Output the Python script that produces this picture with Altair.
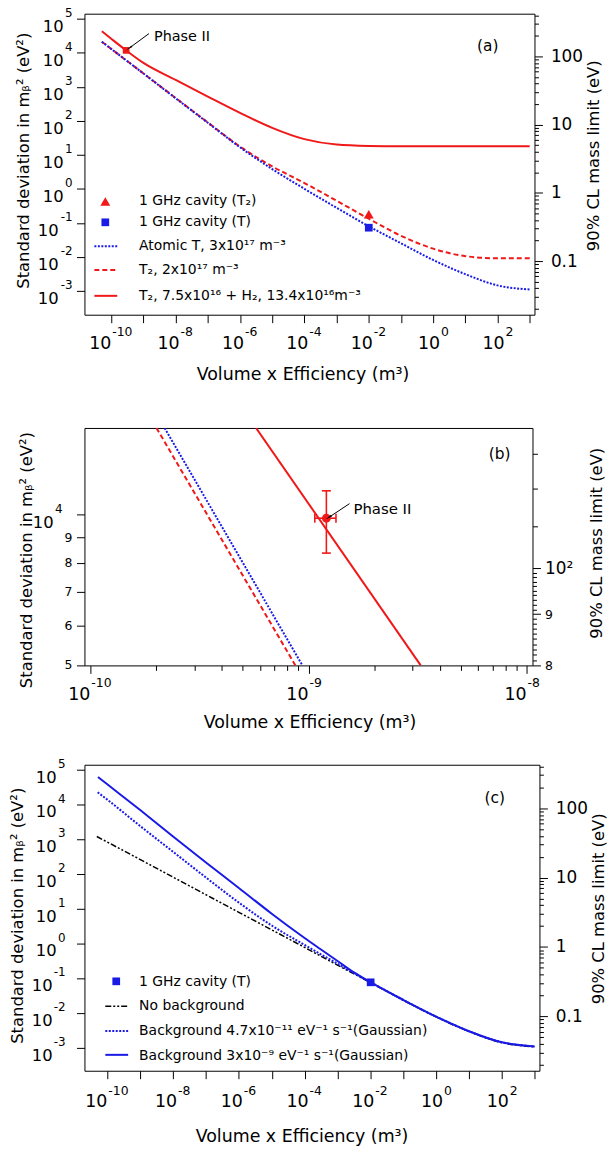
import altair as alt
import pandas as pd

FONT = "DejaVu Sans"
RED = "#f01818"
BLUE = "#1a1ae6"
BLACK = "#000000"

# ------------------------------------------------------------------ data
# Panel (a)
a_x = [5.1e-11, 1e-10, 1e-9, 1e-8, 1e-7, 1e-6, 1e-5, 1e-4, 1e-3, 1e-2, 1e-1, 1.0, 10.0, 100.0, 1000.0]
a_atomic_T = [2.1e4, 1.29e4, 2450, 457, 87, 16.6, 3.8, 1.0, 0.275, 0.0794, 0.0251, 0.0081, 0.0031, 0.00145, 0.0011]
a_T2 = [2.1e4, 1.29e4, 2450, 468, 89, 17.4, 4.57, 1.48, 0.447, 0.132, 0.0417, 0.0174, 0.0105, 0.0091, 0.0091]
a_mix_x = [5.1e-11, 1e-10, 2.9e-10, 1e-9, 1e-8, 1e-7, 1e-6, 1e-5, 1e-4, 1e-3, 1e-2, 1e-1, 1.0, 10.0, 100.0, 1000.0]
a_mix = [4.27e4, 2.57e4, 1.17e4, 5010, 1585, 513, 170, 61.7, 28.8, 20.0, 18.2, 17.8, 17.8, 17.8, 17.8, 17.8]
a_cavity_x = [1e-2]
a_cavity_T2 = [0.178]
a_cavity_T = [0.072]
a_phase2_x = [2.9e-10]
a_phase2_y = [1.17e4]
a_arrow_tail = (1.49e-9, 3.65e4)
a_arrow_tip = (3.85e-10, 1.42e4)
a_note = (2.12e-9, 2.88e4, "Phase II")
a_legend = ["1 GHz cavity (T\u2082)", "1 GHz cavity (T)", "Atomic T, 3x10\u00b9\u2077 m\u207b\u00b3",
            "T\u2082, 2x10\u00b9\u2077 m\u207b\u00b3",
            "T\u2082, 7.5x10\u00b9\u2076 + H\u2082, 13.4x10\u00b9\u2076m\u207b\u00b3"]

# Panel (b) (zoom near Phase II)
b_mix_x = [5.75e-10, 3.27e-9]
b_mix = [14900, 5000]
b_T2_x = [2.01e-10, 8.71e-10]
b_T2 = [14900, 5000]
b_atomic_x = [2.19e-10, 9.38e-10]
b_atomic = [14900, 5000]
b_phase2 = (1.208e-9, 9840)
b_phase2_xerr = (1.069e-9, 1.337e-9)
b_phase2_yerr = (8380, 11160)
b_arrow_tail = (1.542e-9, 10520)
b_arrow_tip = (1.25e-9, 9900)
b_note = (1.607e-9, 10280, "Phase II")

# Panel (c) (backgrounds)
c_x_high = [5.2e-11, 1e-10, 1e-9, 1e-8, 1e-7, 1e-6, 1e-5, 1e-4, 3.16e-4, 1e-3, 3.16e-3, 1e-2, 1e-1,
            1.0, 10.0, 100.0, 1000.0]
c_bg_high = [6.17e4, 3.80e4, 6920, 1200, 214, 39.8, 7.24, 1.45, 0.676, 0.316, 0.148, 0.0776, 0.024,
             0.00794, 0.00302, 0.00145, 0.0011]
c_x_low = [5.1e-11, 1e-10, 1e-9, 1e-8, 1e-7, 1e-6, 1e-5, 1e-4, 1e-3, 3.16e-3, 1e-2, 1e-1, 1.0, 10.0,
           100.0, 1000.0]
c_bg_low = [2.24e4, 1.38e4, 2400, 437, 79.4, 15.1, 3.31, 0.912, 0.263, 0.141, 0.0776, 0.024, 0.00794,
            0.00302, 0.00145, 0.0011]
c_x_nobg = [4.8e-11, 1e-10, 1e-8, 1e-6, 1e-4, 1e-3, 1e-2, 1e-1, 1.0, 10.0, 100.0, 1000.0]
c_nobg = [1200, 832, 81.3, 7.94, 0.776, 0.24, 0.0759, 0.0234, 0.00776, 0.00295, 0.00141, 0.00107]
c_cavity_x = [1.02e-2]
c_cavity_T = [0.0769]
c_legend = ["1 GHz cavity (T)", "No background",
            "Background 4.7x10\u207b\u00b9\u00b9 eV\u207b\u00b9 s\u207b\u00b9(Gaussian)",
            "Background 3x10\u207b\u2079 eV\u207b\u00b9 s\u207b\u00b9(Gaussian)"]

# tick exponents / labels
ac_x_exps = list(range(-10, 4))
ac_xlabel_exps = [-10, -8, -6, -4, -2, 0, 2]
ac_y_exps = list(range(-3, 6))
b_x_exps = [-10, -9, -8]
b_y_vals = [5000, 6000, 7000, 8000, 9000, 10000]
b_y_small = [5000, 6000, 7000, 8000, 9000]
b_y_big_exps = [4]
b_m_ticks = list(range(80, 100)) + [100, 110, 120, 130]

Y_TITLE = "Standard deviation in m\u1d66\u00b2 (eV\u00b2)"
R_TITLE = "90% CL mass limit (eV)"
X_TITLE = "Volume x Efficiency (m\u00b3)"

ONE = pd.DataFrame({"k": [0]})
MAJOR = "abs(log(datum.value)/LN10 - round(log(datum.value)/LN10)) < 0.001"


def pw(e):
    return 10.0 ** e


def xaxis(values, tick_size=8):
    return alt.Axis(values=values, labels=False, ticks=True, tickSize=tick_size, tickColor=BLACK,
                    tickWidth=1, domain=False, grid=False, title="")


def yaxis(values, tick_size=8):
    return alt.Axis(orient="left", values=values, labels=False, ticks=True, tickSize=tick_size,
                    tickColor=BLACK, tickWidth=1, domain=False, grid=False, title="")


class P:
    def __init__(self, xs, ys, xa, ya):
        self.xs, self.ys, self.xa, self.ya = xs, ys, xa, ya

    def X(self, f):
        return alt.X(f"{f}:Q", scale=self.xs, axis=self.xa)

    def Y(self, f):
        return alt.Y(f"{f}:Q", scale=self.ys, axis=self.ya)


def curve(p, xv, yv, color, width, dash=None):
    kw = dict(color=color, strokeWidth=width, clip=True, interpolate="monotone")
    if dash:
        kw["strokeDash"] = dash
    return alt.Chart(pd.DataFrame({"x": xv, "y": yv})).mark_line(**kw).encode(x=p.X("x"), y=p.Y("y"))


def marker(p, xv, yv, shape, size, color, angle=0):
    kw = dict(shape=shape, size=size, filled=True, color=color, opacity=1)
    if angle:
        kw["angle"] = angle
    return alt.Chart(pd.DataFrame({"x": xv, "y": yv})).mark_point(**kw).encode(x=p.X("x"), y=p.Y("y"))


def drule(p, x, y, x2, y2, color, width):
    df = pd.DataFrame({"x": [x], "y": [y], "x2": [x2], "y2": [y2]})
    return alt.Chart(df).mark_rule(color=color, strokeWidth=width).encode(
        x=p.X("x"), y=p.Y("y"), x2="x2:Q", y2="y2:Q")


def dtick(p, x, y, orient, size, color):
    df = pd.DataFrame({"x": [x], "y": [y]})
    return alt.Chart(df).mark_tick(orient=orient, size=size, thickness=1.6, color=color, opacity=1).encode(
        x=p.X("x"), y=p.Y("y"))


def dtext(p, x, y, txt, size):
    df = pd.DataFrame({"x": [x], "y": [y], "t": [txt]})
    return alt.Chart(df).mark_text(align="left", baseline="middle", font=FONT, fontSize=size,
                                   color=BLACK).encode(x=p.X("x"), y=p.Y("y"), text="t:N")


def ptext(x, y, txt, size, align="left", baseline="middle", angle=0):
    kw = dict(align=align, baseline=baseline, font=FONT, fontSize=size, color=BLACK)
    if angle:
        kw["angle"] = angle
    return alt.Chart(ONE).mark_text(**kw).encode(x=alt.value(x), y=alt.value(y), text=alt.value(txt))


def pline(x1, x2, y, color, width, dash=None):
    kw = dict(color=color, strokeWidth=width)
    if dash:
        kw["strokeDash"] = dash
    return alt.Chart(ONE).mark_rule(**kw).encode(x=alt.value(x1), x2=alt.value(x2), y=alt.value(y))


def psym(x, y, shape, size, color):
    return alt.Chart(ONE).mark_point(shape=shape, size=size, filled=True, color=color, opacity=1).encode(
        x=alt.value(x), y=alt.value(y))


def xlabels(p, exps, H, base_dy, exp_dy, shifts, base_size=17.5, exp_size=12.5):
    df = pd.DataFrame({"e": exps})
    layers = []
    for n in sorted(set(len(str(e)) for e in exps)):
        src = alt.Chart(df).transform_filter(f"length('' + datum.e) == {n}").transform_calculate(
            v="pow(10, datum.e)", t="'' + datum.e")
        dx = shifts[n]
        layers.append(src.mark_text(text="10", align="right", baseline="alphabetic", dx=dx, font=FONT,
                                    fontSize=base_size, color=BLACK).encode(x=p.X("v"), y=alt.value(H + base_dy)))
        layers.append(src.mark_text(align="left", baseline="alphabetic", dx=dx + 1, font=FONT,
                                    fontSize=exp_size, color=BLACK).encode(x=p.X("v"), y=alt.value(H + exp_dy),
                                                                           text="t:N"))
    return layers


def ylabels(p, exps, x_exp, x10_pos, x10_neg, base_size=16.5, exp_size=12):
    df = pd.DataFrame({"e": exps})
    layers = []
    for cond, x10 in (("datum.e >= 0", x10_pos), ("datum.e < 0", x10_neg)):
        src = alt.Chart(df).transform_filter(cond).transform_calculate(v="pow(10, datum.e)", t="'' + datum.e")
        layers.append(src.mark_text(text="10", align="right", baseline="alphabetic", dy=13, font=FONT,
                                    fontSize=base_size, color=BLACK).encode(x=alt.value(x10), y=p.Y("v")))
        layers.append(src.mark_text(align="right", baseline="alphabetic", dy=-2, font=FONT,
                                    fontSize=exp_size, color=BLACK).encode(x=alt.value(x_exp), y=p.Y("v"),
                                                                           text="t:N"))
    return layers


def right_axis(domain, values, label_expr, tick_size, label_size, pad):
    vals = [v for v in values if domain[0] <= v <= domain[1]]
    return alt.Chart(pd.DataFrame({"m": domain})).mark_point(opacity=0).encode(
        x=alt.value(0),
        y=alt.Y("m:Q", scale=alt.Scale(type="log", domain=domain, nice=False),
                axis=alt.Axis(orient="right", values=vals, labelExpr=label_expr, tickSize=tick_size,
                              tickColor=BLACK, tickWidth=1, labelFont=FONT, labelFontSize=label_size,
                              labelColor=BLACK, labelPadding=pad, labelOverlap=False, domain=False,
                              grid=False, title="")))


# ------------------------------------------------------------------ panel (a)
W_A, H_A = 453, 303
pa = P(alt.Scale(type="log", domain=[pw(-10.833), pw(3.148)], nice=False),
       alt.Scale(type="log", domain=[pw(-3.70), pw(5.146)], nice=False),
       xaxis([pw(e) for e in ac_x_exps]), yaxis([pw(e) for e in ac_y_exps]))

anchor = alt.Chart(ONE).mark_rule(color="white", strokeWidth=0.001).encode(
    x=alt.value(-84), x2=alt.value(-84), y=alt.value(-9), y2=alt.value(-9))

m_ticks = [round(m * 10.0 ** e, 8) for e in range(-2, 3) for m in range(1, 10)]
m_expr = f"({MAJOR}) ? format(datum.value, '~g') : ''"
m_tick_size = {"condition": {"test": MAJOR, "value": 8}, "value": 4}

sigma_a = alt.layer(
    anchor,
    curve(pa, a_x, a_T2, RED, 2, [5, 3]),
    curve(pa, a_x, a_atomic_T, BLUE, 2, [2, 1.5]),
    curve(pa, a_mix_x, a_mix, RED, 2),
    marker(pa, a_cavity_x, a_cavity_T2, "triangle-up", 100, RED),
    marker(pa, a_cavity_x, a_cavity_T, "square", 60, BLUE),
    marker(pa, a_phase2_x, a_phase2_y, "square", 45, RED),
    drule(pa, a_arrow_tail[0], a_arrow_tail[1], a_arrow_tip[0], a_arrow_tip[1], BLACK, 1),
    marker(pa, [a_arrow_tip[0]], [a_arrow_tip[1]], "wedge", 60, BLACK, 236),
    dtext(pa, a_note[0], a_note[1], a_note[2], 14.5),
    ptext(406, 33, "(a)", 15.5, align="center"),
    psym(21, 189, "triangle-up", 100, RED),
    psym(21, 210, "square", 60, BLUE),
    pline(10, 33, 234, BLUE, 2, [2, 1.5]),
    pline(10, 33, 258, RED, 2, [5, 3]),
    pline(10, 33, 284, RED, 2),
    ptext(55, 189, a_legend[0], 14),
    ptext(55, 210, a_legend[1], 14),
    ptext(55, 234, a_legend[2], 14),
    ptext(55, 258, a_legend[3], 14),
    ptext(55, 284, a_legend[4], 14),
    *xlabels(pa, ac_xlabel_exps, H_A, 35, 21, {3: 0, 2: 4, 1: 7}),
    *ylabels(pa, ac_y_exps, -12, -21, -26),
    ptext(-61, 148, Y_TITLE, 16.5, align="center", angle=270),
    ptext(513, 143, R_TITLE, 16.5, align="center", angle=270),
    ptext(220, H_A + 66, X_TITLE, 17.5, align="center", baseline="alphabetic"),
)
panel_a = alt.layer(sigma_a, right_axis([0.01637, 423.0], m_ticks, m_expr, m_tick_size, 17, 8)).resolve_scale(
    y="independent").properties(width=W_A, height=H_A)

# ------------------------------------------------------------------ panel (b)
W_B, H_B = 451, 239
b_xticks = [m * pw(e) for e in (-10, -9) for m in range(1, 10)] + [pw(-8)]
pb = P(alt.Scale(type="log", domain=[pw(-10.027), pw(-7.973)], nice=False),
       alt.Scale(type="log", domain=[5000, 14900], nice=False),
       xaxis(b_xticks, {"condition": {"test": MAJOR, "value": 8}, "value": 5}),
       yaxis(b_y_vals, 8))

b_small = pd.DataFrame({"v": b_y_small})
b_small_labels = alt.Chart(b_small).transform_calculate(t="'' + (datum.v / 1000)").mark_text(
    align="right", baseline="middle", font=FONT, fontSize=12.5, color=BLACK).encode(
    x=alt.value(-12), y=pb.Y("v"), text="t:N")

b_big = pd.DataFrame({"e": b_y_big_exps})
b_big_src = alt.Chart(b_big).transform_calculate(v="pow(10, datum.e)", t="'' + datum.e")
b_big_base = b_big_src.mark_text(text="10", align="right", baseline="alphabetic", dy=13, font=FONT,
                                 fontSize=16.5, color=BLACK).encode(x=alt.value(-31), y=pb.Y("v"))
b_big_exp = b_big_src.mark_text(align="right", baseline="alphabetic", dy=-2, font=FONT, fontSize=12,
                                color=BLACK).encode(x=alt.value(-22), y=pb.Y("v"), text="t:N")

bx, by = b_phase2
sigma_b = alt.layer(
    curve(pb, b_T2_x, b_T2, RED, 2, [5, 3]),
    curve(pb, b_atomic_x, b_atomic, BLUE, 2, [2, 1.5]),
    curve(pb, b_mix_x, b_mix, RED, 2),
    drule(pb, bx, b_phase2_yerr[0], bx, b_phase2_yerr[1], RED, 1.6),
    drule(pb, b_phase2_xerr[0], by, b_phase2_xerr[1], by, RED, 1.6),
    dtick(pb, bx, b_phase2_yerr[0], "horizontal", 9, RED),
    dtick(pb, bx, b_phase2_yerr[1], "horizontal", 9, RED),
    dtick(pb, b_phase2_xerr[0], by, "vertical", 9, RED),
    dtick(pb, b_phase2_xerr[1], by, "vertical", 9, RED),
    marker(pb, [bx], [by], "circle", 80, RED),
    drule(pb, b_arrow_tail[0], b_arrow_tail[1], b_arrow_tip[0], b_arrow_tip[1], BLACK, 1),
    marker(pb, [b_arrow_tip[0]], [b_arrow_tip[1]], "wedge", 60, BLACK, 237),
    dtext(pb, b_note[0], b_note[1], b_note[2], 15),
    ptext(418, 26, "(b)", 15.5, align="center"),
    *xlabels(pb, b_x_exps, H_B, 35, 22, {3: 0, 2: 0}),
    b_small_labels, b_big_base, b_big_exp,
    ptext(-58, 133, Y_TITLE, 16.5, align="center", angle=270),
    ptext(516, 116, R_TITLE, 16.5, align="center", angle=270),
    ptext(227, H_B + 63, X_TITLE, 17.5, align="center", baseline="alphabetic"),
)
b_m_expr = "datum.value == 100 ? '10\u00b2' : (datum.value == 90 ? '9' : (datum.value == 80 ? '8' : ''))"
b_m_tick = {"condition": [{"test": "datum.value == 80 || datum.value == 90 || datum.value == 100", "value": 8},
                          {"test": "datum.value > 100", "value": 5}], "value": 4}
b_m_font = {"condition": {"test": "datum.value == 100", "value": 17}, "value": 12.5}
panel_b = alt.layer(sigma_b, right_axis([80.0, 138.0], b_m_ticks, b_m_expr, b_m_tick, b_m_font, 4)).resolve_scale(
    y="independent").properties(width=W_B, height=H_B)

# ------------------------------------------------------------------ panel (c)
W_C, H_C = 458, 308
pc = P(alt.Scale(type="log", domain=[pw(-10.695), pw(3.142)], nice=False),
       alt.Scale(type="log", domain=[pw(-3.657), pw(5.143)], nice=False),
       xaxis([pw(e) for e in ac_x_exps]), yaxis([pw(e) for e in ac_y_exps]))

DASHDOT = [6, 2, 2, 2, 2, 2]
sigma_c = alt.layer(
    curve(pc, c_x_nobg, c_nobg, BLACK, 1.5, DASHDOT),
    curve(pc, c_x_low, c_bg_low, BLUE, 2, [2, 1.5]),
    curve(pc, c_x_high, c_bg_high, BLUE, 2),
    marker(pc, c_cavity_x, c_cavity_T, "square", 60, BLUE),
    ptext(413, 34, "(c)", 15.5, align="center"),
    psym(32, 218, "square", 60, BLUE),
    pline(21, 44, 243, BLACK, 1.5, DASHDOT),
    pline(21, 44, 268, BLUE, 2, [2, 1.5]),
    pline(21, 44, 292, BLUE, 2),
    ptext(55, 219, c_legend[0], 14),
    ptext(55, 243, c_legend[1], 14),
    ptext(55, 268, c_legend[2], 14),
    ptext(55, 293, c_legend[3], 14),
    *xlabels(pc, ac_xlabel_exps, H_C, 37, 24, {3: 0, 2: 4, 1: 7}),
    *ylabels(pc, ac_y_exps, -19, -28, -32),
    ptext(-67, 152, Y_TITLE, 16.5, align="center", angle=270),
    ptext(518, 145, R_TITLE, 16.5, align="center", angle=270),
    ptext(219, H_C + 72, X_TITLE, 17.5, align="center", baseline="alphabetic"),
)
panel_c = alt.layer(sigma_c, right_axis([0.0164, 424.0], m_ticks, m_expr, m_tick_size, 17, 8)).resolve_scale(
    y="independent").properties(width=W_C, height=H_C)


def spacer(h):
    return alt.Chart(ONE).mark_text(text=" ").encode(x=alt.value(0), y=alt.value(0)).properties(
        width=100, height=h, view=alt.ViewBackground(stroke="transparent"))


chart = alt.vconcat(panel_a, spacer(15), panel_b, spacer(1), panel_c, spacing=49.5, bounds="flush").properties(
    padding=0, background="white").configure_view(stroke=BLACK, strokeWidth=1)

chart.save("out.html", embed_options={"renderer": "svg", "actions": False})
